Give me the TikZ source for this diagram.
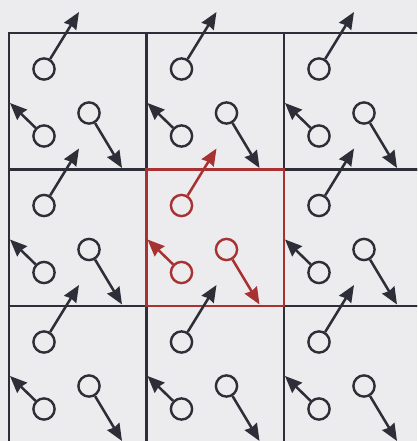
\documentclass[tikz,border=0pt]{standalone}
\definecolor{cellbg}{HTML}{ECECEE}
\definecolor{gridline}{HTML}{2E2E38}
\definecolor{central}{HTML}{A83232}
\usetikzlibrary{arrows.meta}
\tikzset{
  cellbox/.style={draw=#1, line width=2pt},
  cellbox/.default=gridline,
  particle/.style={
    circle, draw=#1, line width=1.7pt, inner sep=0pt,
    minimum size=0.53cm
  },
  particle/.default=gridline,
  vel/.style={-{Stealth[length=12pt,width=10pt,inset=1pt]}, line width=1.8pt, color=#1},
  vel/.default=gridline,
}

\begin{document}
\begin{tikzpicture}[x=0.025cm, y=-0.025cm]
    \useasboundingbox (0,0) rectangle (417,441);
    \clip (0,0) rectangle (417,441);
    \fill[cellbg] (0,0) rectangle (417,441);

    % periodic images
    \foreach \i in {0,1,2}{
      \foreach \j in {0,1,2}{
        \coordinate (o-\i-\j) at ({9+137.5*\i},{33+136.5*\j});
        \draw[cellbox] (o-\i-\j) rectangle ++(137.5,136.5);
      }
    }
    % central box
    \draw[cellbox=central] (o-1-1) rectangle ++(137.5,136.5);

    \foreach \i/\j/\col in {0/0/gridline,1/0/gridline,2/0/gridline,
                            0/1/gridline,2/1/gridline,
                            0/2/gridline,1/2/gridline,2/2/gridline,
                            1/1/central}{
      \begin{scope}[shift={(o-\i-\j)}]
        \node[particle=\col] (a-\i-\j) at (35,36) {};
        \node[particle=\col] (b-\i-\j) at (35,103) {};
        \node[particle=\col] (c-\i-\j) at (80,80) {};
        \coordinate (ta-\i-\j) at (70,-21);
        \coordinate (tb-\i-\j) at (1,70);
        \coordinate (tc-\i-\j) at (113,135);
        \draw[vel=\col] (a-\i-\j) -- (ta-\i-\j);
        \draw[vel=\col] (b-\i-\j) -- (tb-\i-\j);
        \draw[vel=\col] (c-\i-\j) -- (tc-\i-\j);
      \end{scope}
    }
\end{tikzpicture}
\end{document}
